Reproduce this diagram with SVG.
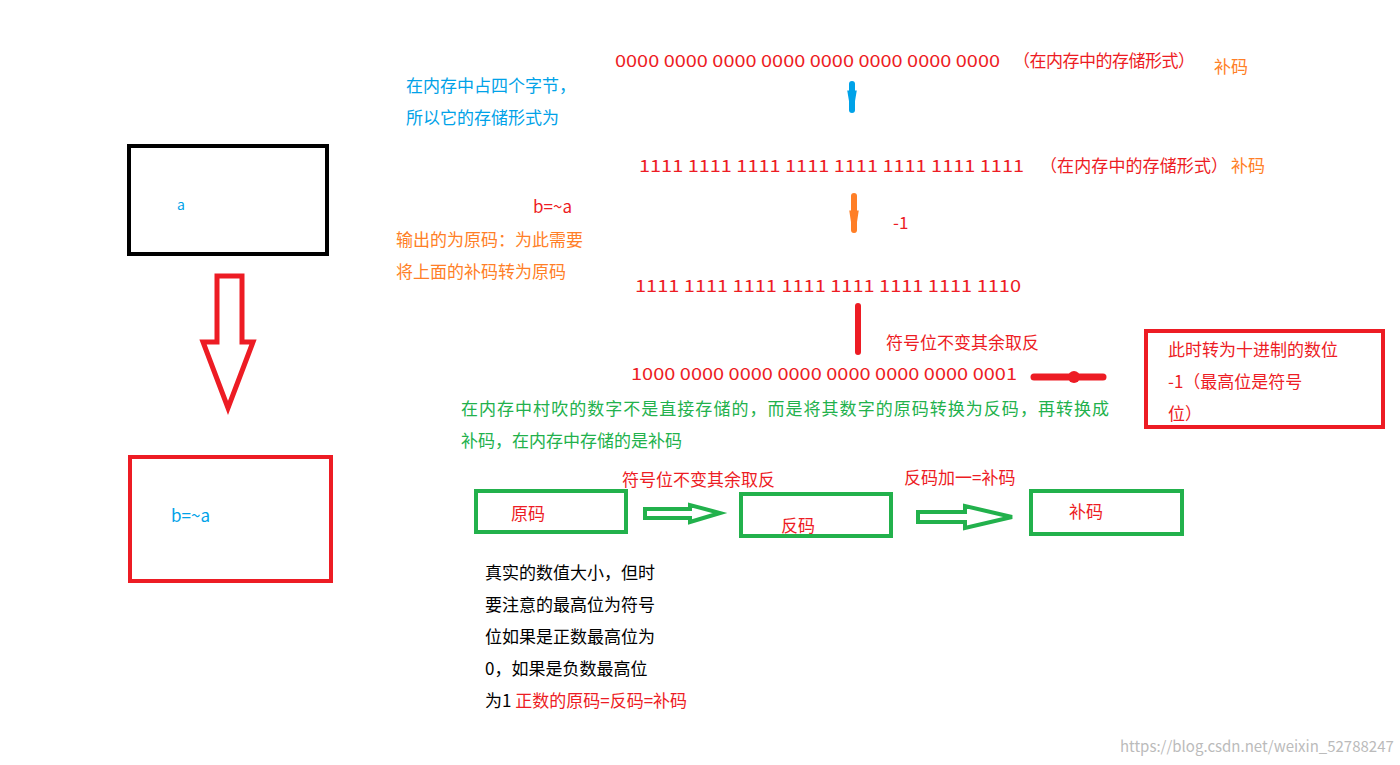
<svg xmlns="http://www.w3.org/2000/svg" width="1400" height="765" viewBox="0 0 1400 765">
<style>
text{font-family:"Microsoft YaHei","Noto Sans CJK SC",sans-serif;font-size:17px}
.r{fill:#ed1c24}.o{fill:#ff7f27}.b{fill:#00a2e8}.g{fill:#22b14c}.k{fill:#000}
.box{fill:none;stroke-width:4}
</style>
<rect width="1400" height="765" fill="#fff"/>
<g id="nodeA"><rect class="box" x="129" y="146" width="198" height="108" stroke="#000"/><text x="177" y="210" class="b" style="font-size:14px">a</text></g>
<g id="nodeB"><rect class="box" x="130" y="457" width="201" height="124" stroke="#ed1c24"/><text x="171" y="522" class="b">b=~a</text></g>
<g id="nodeDec"><rect class="box" x="1146" y="331" width="237" height="96" stroke="#ed1c24"/>
<text x="1168" y="356" class="r">此时转为十进制的数位</text><text x="1168" y="388" class="r">-1（最高位是符号</text><text x="1168" y="420" class="r">位）</text></g>
<g id="nodeYuan"><rect class="box" x="476" y="491" width="150" height="41" stroke="#22b14c"/><text x="511" y="520" class="r">原码</text></g>
<g id="nodeFan"><rect class="box" x="741" y="494" width="150" height="42" stroke="#22b14c"/><text x="781" y="532" class="r">反码</text></g>
<g id="nodeBu"><rect class="box" x="1031" y="491" width="151" height="43" stroke="#22b14c"/><text x="1069" y="518" class="r">补码</text></g>
<g id="connectors">
<path d="M217,276 H242 V342 H253 L228,408 L203,342 H217 Z" fill="none" stroke="#ed1c24" stroke-width="5"/>
<path d="M852,84 V110" stroke="#00a2e8" stroke-width="6" stroke-linecap="round"/>
<path d="M849,92 L852,110 L855,92 Z" fill="#00a2e8" stroke="#00a2e8" stroke-width="3"/>
<path d="M854,196 V230" stroke="#ff7f27" stroke-width="6" stroke-linecap="round"/>
<path d="M851,212 L854,232 L857,212 Z" fill="#ff7f27" stroke="#ff7f27" stroke-width="3"/>
<path d="M858,306 V352" stroke="#ed1c24" stroke-width="6" stroke-linecap="round"/>
<path d="M1034,377 H1103" stroke="#ed1c24" stroke-width="7" stroke-linecap="round"/>
<circle cx="1074" cy="377" r="6" fill="#ed1c24"/>
<path d="M645,509 H690 V505 L720,513 L690,522 V518 H645 Z" fill="none" stroke="#22b14c" stroke-width="4"/>
<path d="M918,512 H965 V506 L1012,517 L965,528 V522 H918 Z" fill="none" stroke="#22b14c" stroke-width="4"/>
</g>
<g id="labels">
<text x="615" y="67" class="r" textLength="385" lengthAdjust="spacingAndGlyphs">0000 0000 0000 0000 0000 0000 0000 0000</text>
<text x="1013" y="67" class="r" textLength="182">（在内存中的存储形式）</text>
<text x="1214" y="73" class="o">补码</text>
<text x="406" y="92" class="b">在内存中占四个字节，</text>
<text x="406" y="124" class="b">所以它的存储形式为</text>
<text x="639" y="172" class="r" textLength="385" lengthAdjust="spacingAndGlyphs">1111 1111 1111 1111 1111 1111 1111 1111</text>
<text x="1040" y="172" class="r" textLength="188">（在内存中的存储形式）</text>
<text x="1231" y="172" class="o">补码</text>
<text x="533" y="213" class="r">b=~a</text>
<text x="893" y="229" class="r">-1</text>
<text x="396" y="246" class="o">输出的为原码：为此需要</text>
<text x="396" y="278" class="o">将上面的补码转为原码</text>
<text x="635" y="292" class="r" textLength="386" lengthAdjust="spacingAndGlyphs">1111 1111 1111 1111 1111 1111 1111 1110</text>
<text x="886" y="349" class="r">符号位不变其余取反</text>
<text x="631" y="380" class="r" textLength="386" lengthAdjust="spacingAndGlyphs">1000 0000 0000 0000 0000 0000 0000 0001</text>
<text x="461" y="415" class="g" textLength="648">在内存中村吹的数字不是直接存储的，而是将其数字的原码转换为反码，再转换成</text>
<text x="461" y="447" class="g">补码，在内存中存储的是补码</text>
<text x="622" y="486" class="r">符号位不变其余取反</text>
<text x="904" y="484" class="r">反码加一=补码</text>
<text x="485" y="579" class="k">真实的数值大小，但时</text>
<text x="485" y="611" class="k">要注意的最高位为符号</text>
<text x="485" y="643" class="k">位如果是正数最高位为</text>
<text x="485" y="675" class="k">0，如果是负数最高位</text>
<text x="485" y="707" class="k">为1 <tspan class="r">正数的原码=反码=补码</tspan></text>
<text x="1120" y="752" fill="#bbb" style="font-size:15px">https://blog.csdn.net/weixin_52788247</text>
</g>
</svg>
